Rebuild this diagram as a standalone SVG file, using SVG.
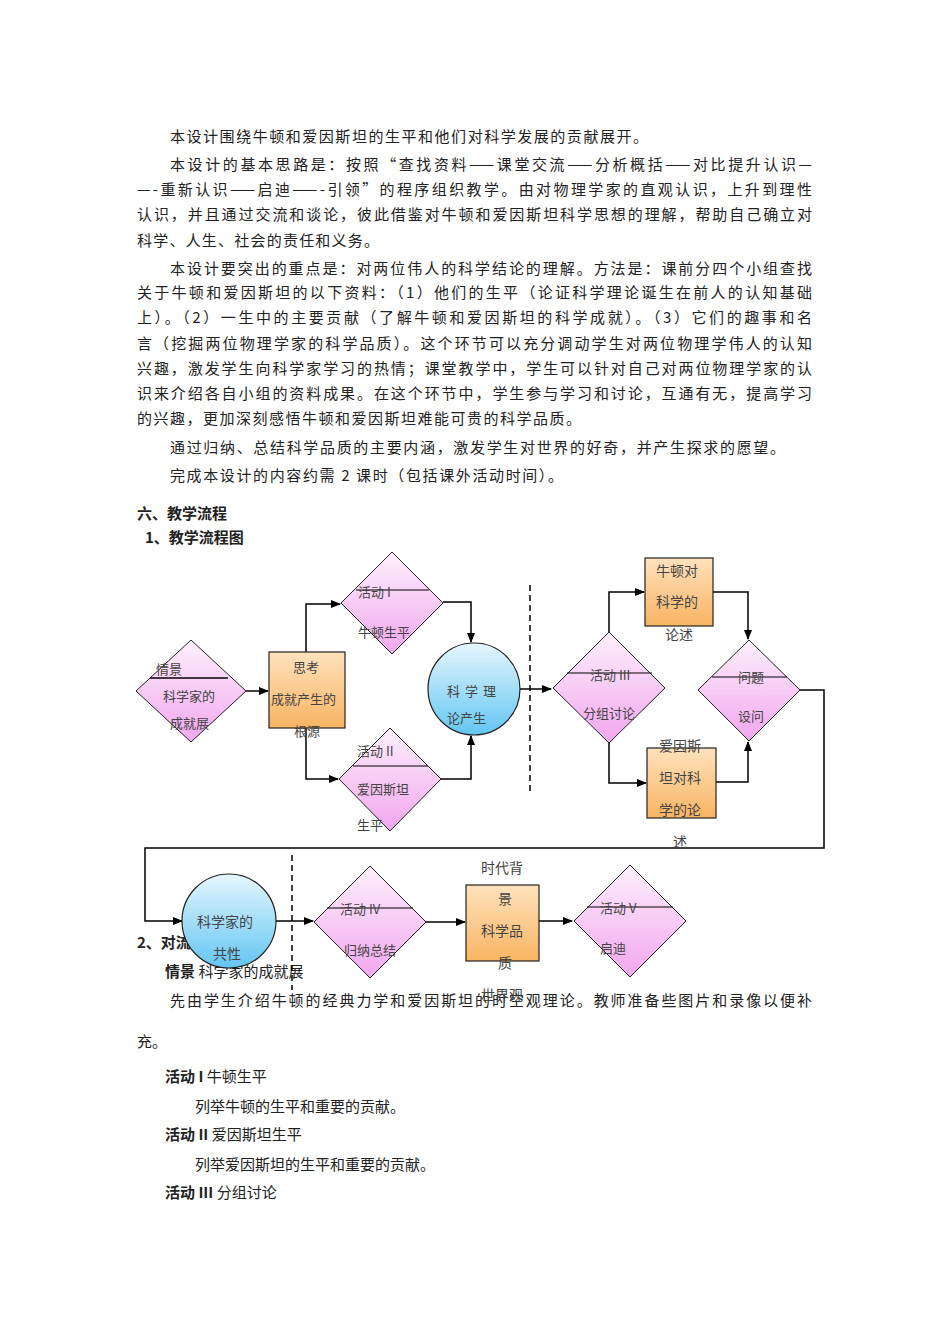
<svg xmlns="http://www.w3.org/2000/svg" width="950" height="1344" viewBox="0 0 950 1344">
<defs>
<linearGradient id="pk" x1="0" y1="0" x2="0" y2="1"><stop offset="0" stop-color="#fdf0fc"/><stop offset="1" stop-color="#f2a6ee"/></linearGradient>
<linearGradient id="or" x1="0" y1="0" x2="0" y2="1"><stop offset="0" stop-color="#ffe2bd"/><stop offset="1" stop-color="#f8b462"/></linearGradient>
<linearGradient id="bl" x1="0" y1="0" x2="0" y2="1"><stop offset="0" stop-color="#e6f6fe"/><stop offset="1" stop-color="#62c6f2"/></linearGradient>
<marker id="ar" markerWidth="10" markerHeight="8" refX="9" refY="4" orient="auto" markerUnits="userSpaceOnUse"><path d="M0,0 L10,4 L0,8 z" fill="#000"/></marker>
<style>
text{font-family:"Noto Sans CJK SC","Liberation Serif",serif;fill:#222}
.p{font-size:15px}
.b{font-weight:bold;font-size:15px}
.n{font-size:13px;fill:#444}
.c{font-size:14px;fill:#444}
.d{fill:url(#pk);stroke:#222;stroke-width:1}
.o{fill:url(#or);stroke:#222;stroke-width:1.2}
.ci{fill:url(#bl);stroke:#222;stroke-width:1.2}
.l{stroke:#000;stroke-width:1.5;fill:none}
.a{stroke:#000;stroke-width:1.5;fill:none;marker-end:url(#ar)}
.ds{stroke:#000;stroke-width:1.5;stroke-dasharray:6,4}
</style>
</defs>
<g id="body">
<text class="p" x="170" y="142" textLength="478" lengthAdjust="spacing">本设计围绕牛顿和爱因斯坦的生平和他们对科学发展的贡献展开。</text>
<text class="p" x="170" y="170" textLength="642" lengthAdjust="spacing">本设计的基本思路是：按照“查找资料——课堂交流——分析概括——对比提升认识—</text>
<text class="p" x="137" y="195" textLength="675" lengthAdjust="spacing">—-重新认识——启迪——-引领”的程序组织教学。由对物理学家的直观认识，上升到理性</text>
<text class="p" x="137" y="220" textLength="675" lengthAdjust="spacing">认识，并且通过交流和谈论，彼此借鉴对牛顿和爱因斯坦科学思想的理解，帮助自己确立对</text>
<text class="p" x="137" y="246" textLength="242" lengthAdjust="spacing">科学、人生、社会的责任和义务。</text>
<text class="p" x="170" y="274" textLength="642" lengthAdjust="spacing">本设计要突出的重点是：对两位伟人的科学结论的理解。方法是：课前分四个小组查找</text>
<text class="p" x="137" y="298" textLength="675" lengthAdjust="spacing">关于牛顿和爱因斯坦的以下资料：（1）他们的生平（论证科学理论诞生在前人的认知基础</text>
<text class="p" x="137" y="323" textLength="675" lengthAdjust="spacing">上）。（2）一生中的主要贡献（了解牛顿和爱因斯坦的科学成就）。（3）它们的趣事和名</text>
<text class="p" x="137" y="349" textLength="675" lengthAdjust="spacing">言（挖掘两位物理学家的科学品质）。这个环节可以充分调动学生对两位物理学伟人的认知</text>
<text class="p" x="137" y="374" textLength="675" lengthAdjust="spacing">兴趣，激发学生向科学家学习的热情；课堂教学中，学生可以针对自己对两位物理学家的认</text>
<text class="p" x="137" y="399" textLength="675" lengthAdjust="spacing">识来介绍各自小组的资料成果。在这个环节中，学生参与学习和讨论，互通有无，提高学习</text>
<text class="p" x="137" y="424" textLength="444" lengthAdjust="spacing">的兴趣，更加深刻感悟牛顿和爱因斯坦难能可贵的科学品质。</text>
<text class="p" x="170" y="453" textLength="615" lengthAdjust="spacing">通过归纳、总结科学品质的主要内涵，激发学生对世界的好奇，并产生探求的愿望。</text>
<text class="p" x="170" y="481" textLength="393" lengthAdjust="spacing">完成本设计的内容约需 2 课时（包括课外活动时间）。</text>
<text class="b" x="137" y="519">六、教学流程</text>
<text class="b" x="145" y="543">1、教学流程图</text>
<text class="b" x="137" y="948">2、对流程图的说明</text>
<text class="p" x="165" y="977"><tspan font-weight="bold">情景</tspan> 科学家的成就展</text>
<text class="p" x="170" y="1006" textLength="642" lengthAdjust="spacing">先由学生介绍牛顿的经典力学和爱因斯坦的时空观理论。教师准备些图片和录像以便补</text>
<text class="p" x="137" y="1047">充。</text>
<text class="p" x="165" y="1082"><tspan font-weight="bold">活动 I</tspan>  牛顿生平</text>
<text class="p" x="195" y="1112">列举牛顿的生平和重要的贡献。</text>
<text class="p" x="165" y="1140"><tspan font-weight="bold">活动 II</tspan>  爱因斯坦生平</text>
<text class="p" x="195" y="1170">列举爱因斯坦的生平和重要的贡献。</text>
<text class="p" x="165" y="1198"><tspan font-weight="bold">活动 III</tspan>  分组讨论</text>
</g>
<g id="connectors">
<line class="a" x1="246" y1="691" x2="268" y2="691"/>
<polyline class="a" points="306,652 306,604 340,604"/>
<polyline class="a" points="306,728 306,779 338,779"/>
<polyline class="a" points="443,602 471,602 471,642"/>
<polyline class="a" points="441,779 471,779 471,736"/>
<line class="a" x1="520" y1="689" x2="551" y2="689"/>
<polyline class="a" points="609,632 609,592 644,592"/>
<polyline class="a" points="609,743 609,783 646,783"/>
<polyline class="a" points="713,592 748,592 748,639"/>
<polyline class="a" points="716,782 748,782 748,742"/>
<polyline class="a" points="800,690 824,690 824,848 145,848 145,921 182,921"/>
<line class="a" x1="276" y1="921" x2="313" y2="921"/>
<line class="a" x1="426" y1="922" x2="465" y2="922"/>
<line class="a" x1="539" y1="921" x2="572" y2="921"/>
<line class="ds" x1="530" y1="585" x2="530" y2="792"/>
<line class="ds" x1="292" y1="855" x2="292" y2="990"/>
</g>
<g id="n-qingjing">
<polygon class="d" points="191,640 246,691 191,742 136,691"/>
<line class="l" x1="150" y1="678" x2="228" y2="678" stroke-width="1"/>
<text class="n" x="156" y="674">情景</text>
<text class="n" x="163" y="701">科学家的</text>
<text class="n" x="170" y="728">成就展</text>
</g>
<g id="n-sikao">
<rect class="o" x="269" y="652" width="76" height="76"/>
<text class="n" x="293" y="672">思考</text>
<text class="n" x="271" y="704">成就产生的</text>
<text class="n" x="294" y="736">根源</text>
</g>
<g id="n-act1">
<polygon class="d" points="392,552 443,603 392,654 341,603"/>
<line x1="356" y1="590" x2="429" y2="590" stroke="#000"/>
<text class="n" x="358" y="597">活动 I</text>
<text class="n" x="358" y="637">牛顿生平</text>
</g>
<g id="n-act2">
<polygon class="d" points="390,728 441,779 390,831 339,779"/>
<line x1="353" y1="766" x2="428" y2="766" stroke="#000"/>
<text class="n" x="357" y="756">活动 II</text>
<text class="n" x="357" y="794">爱因斯坦</text>
<text class="n" x="357" y="830">生平</text>
</g>
<g id="n-theory">
<circle class="ci" cx="474" cy="689" r="46"/>
<text class="n" x="447" y="696" letter-spacing="5">科学理</text>
<text class="n" x="447" y="723">论产生</text>
</g>
<g id="n-act3">
<polygon class="d" points="609,632 665,688 609,743 553,688"/>
<line x1="567" y1="673" x2="652" y2="673" stroke="#000"/>
<text class="n" x="590" y="680">活动 III</text>
<text class="n" x="583" y="718">分组讨论</text>
</g>
<g id="n-newton">
<rect class="o" x="645" y="558" width="68" height="68"/>
<text class="c" x="656" y="576">牛顿对</text>
<text class="c" x="656" y="607">科学的</text>
<text class="c" x="665" y="640">论述</text>
</g>
<g id="n-einstein">
<rect class="o" x="647" y="748" width="69" height="70"/>
<text class="c" x="659" y="751">爱因斯</text>
<text class="c" x="659" y="783">坦对科</text>
<text class="c" x="659" y="815">学的论</text>
<text class="c" x="673" y="847">述</text>
</g>
<g id="n-question">
<polygon class="d" points="749,640 800,690 749,741 698,690"/>
<line x1="712" y1="677" x2="787" y2="677" stroke="#000"/>
<text class="n" x="738" y="682">问题</text>
<text class="n" x="738" y="721">设问</text>
</g>
<g id="n-common">
<circle class="ci" cx="229" cy="921" r="47"/>
<text class="c" x="197" y="927">科学家的</text>
<text class="c" x="213" y="959">共性</text>
</g>
<g id="n-act4">
<polygon class="d" points="370,866 426,922 370,978 314,922"/>
<line x1="327" y1="908" x2="413" y2="908" stroke="#000"/>
<text class="n" x="340" y="914">活动 IV</text>
<text class="n" x="344" y="955">归纳总结</text>
</g>
<g id="n-quality">
<rect class="o" x="466" y="885" width="73" height="76"/>
<text class="c" x="481" y="873">时代背</text>
<text class="c" x="498" y="904">景</text>
<text class="c" x="481" y="936">科学品</text>
<text class="c" x="498" y="968">质</text>
<text class="c" x="481" y="1000">世界观</text>
</g>
<g id="n-act5">
<polygon class="d" points="630,865 686,921 630,977 574,921"/>
<line x1="587" y1="907" x2="673" y2="907" stroke="#000"/>
<text class="n" x="600" y="913">活动 V</text>
<text class="n" x="600" y="953">启迪</text>
</g>
</svg>
